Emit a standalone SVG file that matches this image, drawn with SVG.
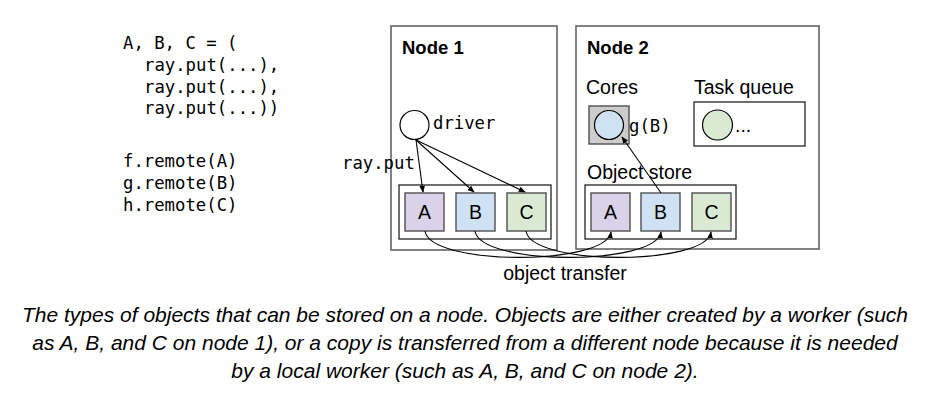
<svg xmlns="http://www.w3.org/2000/svg" width="931" height="401" viewBox="0 0 931 401">
<style>
.code{font-family:"DejaVu Sans Mono","Liberation Mono",monospace;font-size:17.3px;fill:#000}
.sans{font-family:"Liberation Sans",Arial,sans-serif;font-size:19.5px;fill:#000}
.bold{font-family:"Liberation Sans",Arial,sans-serif;font-size:18.5px;font-weight:bold;fill:#000}
.cap{font-family:"Liberation Sans",Arial,sans-serif;font-size:21px;font-style:italic;fill:#000}
.node{fill:#fff;stroke:#595959;stroke-width:1.5}
.store{fill:#fff;stroke:#222;stroke-width:1.3}
.obj{stroke:#595959;stroke-width:1.5}
.a{fill:#d9d2e9}.b{fill:#cfe2f3}.c{fill:#d9ead3}
.conn{fill:none;stroke:#000;stroke-width:1.1}
</style>
<defs>
<marker id="ah" viewBox="0 0 10 10" refX="9" refY="5" markerWidth="7" markerHeight="7" markerUnits="userSpaceOnUse" orient="auto">
<path d="M0,1 L10,5 L0,9 z" fill="#000"/>
</marker>
</defs>
<rect width="931" height="401" fill="#fff"/>
<g id="code">
<text class="code" x="123" y="49">A, B, C = (</text>
<text class="code" x="144" y="71">ray.put(...),</text>
<text class="code" x="144" y="93">ray.put(...),</text>
<text class="code" x="144" y="114">ray.put(...))</text>
<text class="code" x="123" y="167">f.remote(A)</text>
<text class="code" x="123" y="189">g.remote(B)</text>
<text class="code" x="123" y="211">h.remote(C)</text>
</g>
<g id="node1">
<rect class="node" x="391" y="26" width="166" height="224"/>
<text class="bold" x="402" y="54">Node 1</text>
</g>
<g id="node2">
<rect class="node" x="576" y="26" width="243" height="223"/>
<text class="bold" x="587" y="54">Node 2</text>
</g>
<g id="driver">
<circle cx="414.5" cy="125" r="14.5" fill="#fff" stroke="#000" stroke-width="1.2"/>
<text class="code" x="433" y="129">driver</text>
</g>
<g id="rayput-label">
<text class="code" x="342" y="169">ray.put</text>
</g>
<g id="store1">
<rect class="store" x="399" y="185" width="152" height="54"/>
</g>
<g id="A1"><rect class="obj a" x="405" y="193" width="39" height="38"/><text class="sans" x="424.5" y="219" text-anchor="middle">A</text></g>
<g id="B1"><rect class="obj b" x="456" y="193" width="39" height="38"/><text class="sans" x="475.5" y="219" text-anchor="middle">B</text></g>
<g id="C1"><rect class="obj c" x="507" y="193" width="39" height="38"/><text class="sans" x="526.5" y="219" text-anchor="middle">C</text></g>
<g id="cores">
<text class="sans" x="586" y="94">Cores</text>
<rect x="589" y="106" width="40" height="38" fill="#cccccc" stroke="#595959" stroke-width="1.5"/>
<circle cx="609" cy="125" r="14.5" fill="#cfe2f3" stroke="#000" stroke-width="1.2"/>
<text class="code" x="629" y="132">g(B)</text>
</g>
<g id="taskqueue">
<text class="sans" x="694" y="94">Task queue</text>
<rect x="694" y="102" width="111" height="44" fill="#fff" stroke="#222" stroke-width="1.3"/>
<circle cx="717.5" cy="125" r="15" fill="#d9ead3" stroke="#000" stroke-width="1.2"/>
<text class="sans" x="735" y="132">...</text>
</g>
<g id="store2">
<text class="sans" x="587" y="179">Object store</text>
<rect class="store" x="585" y="185" width="151" height="54"/>
</g>
<g id="A2"><rect class="obj a" x="591" y="193" width="39" height="38"/><text class="sans" x="610.5" y="219" text-anchor="middle">A</text></g>
<g id="B2"><rect class="obj b" x="641" y="193" width="39" height="38"/><text class="sans" x="660.5" y="219" text-anchor="middle">B</text></g>
<g id="C2"><rect class="obj c" x="692" y="193" width="39" height="38"/><text class="sans" x="711.5" y="219" text-anchor="middle">C</text></g>
<g id="connectors">
<line class="conn" x1="416" y1="140" x2="423" y2="192" marker-end="url(#ah)"/>
<line class="conn" x1="416" y1="140" x2="474" y2="192" marker-end="url(#ah)"/>
<line class="conn" x1="416" y1="140" x2="525" y2="192" marker-end="url(#ah)"/>
<line class="conn" x1="661" y1="193" x2="622" y2="137" marker-end="url(#ah)"/>
<path class="conn" d="M425,231 C430,266 606,266 611,232" marker-end="url(#ah)"/>
<path class="conn" d="M475,231 C480,266 656,266 661,232" marker-end="url(#ah)"/>
<path class="conn" d="M526,231 C531,266 706,266 711,232" marker-end="url(#ah)"/>
</g>
<g id="transfer-label">
<text class="sans" x="565" y="280" text-anchor="middle">object transfer</text>
</g>
<g id="caption">
<text class="cap" x="465" y="322" text-anchor="middle">The types of objects that can be stored on a node. Objects are either created by a worker (such</text>
<text class="cap" x="465" y="350" text-anchor="middle">as A, B, and C on node 1), or a copy is transferred from a different node because it is needed</text>
<text class="cap" x="465" y="378" text-anchor="middle">by a local worker (such as A, B, and C on node 2).</text>
</g>
</svg>
